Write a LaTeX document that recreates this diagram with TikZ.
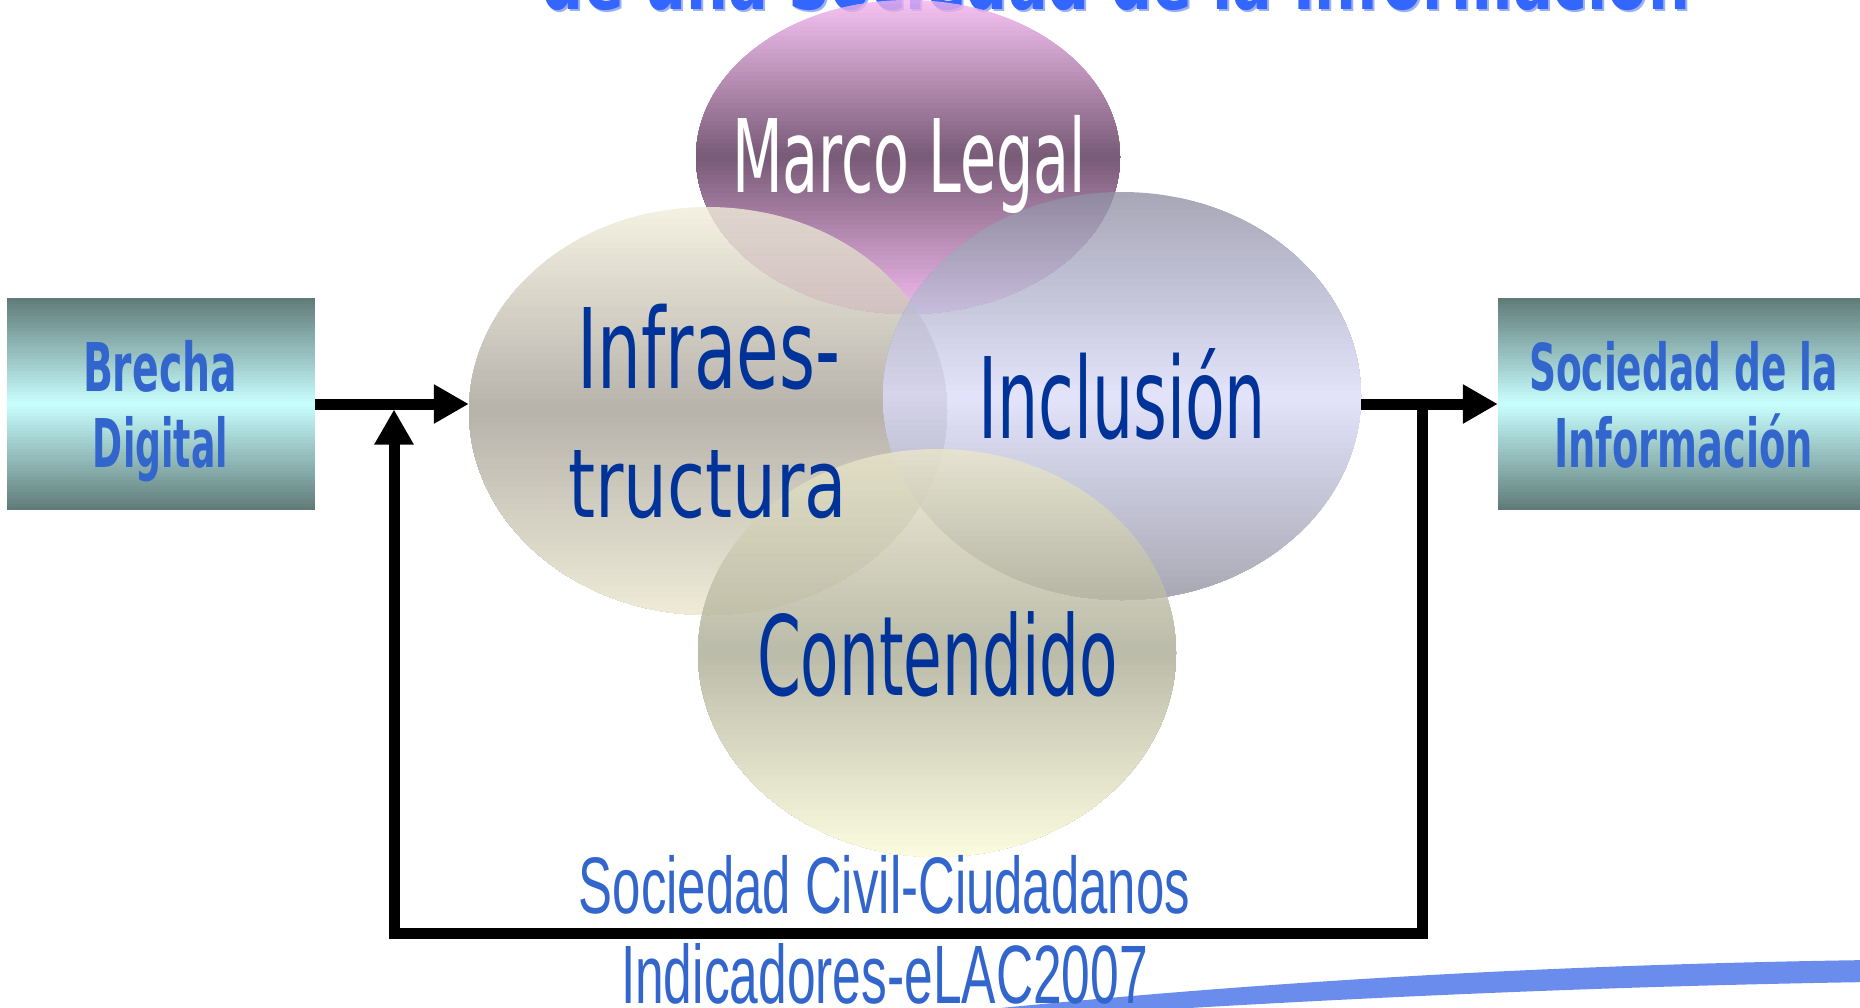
\documentclass[tikz,border=0pt]{standalone}
\usepackage{fontspec}
\usepackage{graphicx}
\usetikzlibrary{shapes.geometric,arrows.meta}
\newfontfamily\agency{DejaVu Sans}
\newfontfamily\agencythin{Liberation Sans}
\definecolor{boxdark}{HTML}{5F7A78}
\definecolor{boxlight}{HTML}{C8FFFF}
\definecolor{lblue}{HTML}{3366CC}
\definecolor{dblue}{HTML}{003399}
\definecolor{tblue}{HTML}{3366FF}
\definecolor{tshadow}{HTML}{9DB0F0}
\definecolor{swblue}{HTML}{6A8CEC}
\definecolor{mtop}{HTML}{F5B4F0}
\definecolor{mmid}{HTML}{563154}
\definecolor{mbot}{HTML}{EFA9EA}
\definecolor{itop}{HTML}{F2EDDB}
\definecolor{imid}{HTML}{A5A096}
\definecolor{ibot}{HTML}{EBE6CE}
\definecolor{ntop}{HTML}{9090A4}
\definecolor{nmid}{HTML}{DCDCFA}
\definecolor{nbot}{HTML}{9292A1}
\definecolor{ctop}{HTML}{EBE8CC}
\definecolor{cmid}{HTML}{AAAA94}
\definecolor{cbot}{HTML}{FBFBD8}
% vertical three-stop gradient drawn as strips
% #1 clip path, #2 xmin, #3 xmax, #4 ytop, #5 ybot, #6 top col, #7 mid col, #8 bottom col
\newcommand\gradfill[8]{%
  \begin{scope}
    \clip #1;
    \foreach \k in {0,...,69}{%
      \pgfmathsetmacro\gs{(\k+0.5)/70}%
      \pgfmathsetmacro\gy{#4+((#5)-(#4))/70*\k}%
      \ifdim\gs pt<0.5pt
        \pgfmathsetmacro\gp{\gs*200}\colorlet{gradcol}{#7!\gp!#6}%
      \else
        \pgfmathsetmacro\gp{(\gs-0.5)*200}\colorlet{gradcol}{#8!\gp!#7}%
      \fi
      \fill[gradcol] (#2,\gy) rectangle (#3,#5);
    }
  \end{scope}}
\begin{document}
\begin{tikzpicture}[x=1pt,y=1pt,
  lab/.style={inner sep=0pt, anchor=base},
  anchorell/.style={ellipse, inner sep=0pt},
  anchorbox/.style={rectangle, inner sep=0pt, minimum height=212pt},
  glass/.style={transparency group, opacity=0.8},
  flow/.style={line width=11pt, line join=miter, -{Triangle[length=35pt,width=37pt]}},
  boxlab/.style={lab, text=lblue, font=\agency\bfseries\fontsize{60}{72}\selectfont},
  elllab/.style={lab, text=dblue, font=\agency\fontsize{100}{120}\selectfont},
  botlab/.style={lab, text=lblue, font=\agencythin\fontsize{70}{84}\selectfont},
  titlelab/.style={lab, font=\agency\bfseries\fontsize{70}{84}\selectfont}
]
\useasboundingbox (0,0) rectangle (1860,-1007);
\clip (0,0) rectangle (1860,-1007);

% title (mostly cut off)
\node[titlelab, text=tshadow] (titleshadow) at (1118,-11.5) {\resizebox{1148pt}{60pt}{\vphantom{S}\smash{de una Sociedad de la Información}}};
\node[titlelab, text=tblue] (title) at (1116,-9.5) {\resizebox{1148pt}{60pt}{\vphantom{S}\smash{de una Sociedad de la Información}}};

% ellipses (named shapes for anchors, filled with strip gradients)
\node[anchorell, minimum width=424pt, minimum height=314pt] (marco) at (908,-157) {};
\node[anchorell, minimum width=478pt, minimum height=408pt] (infra) at (708,-411) {};
\node[anchorell, minimum width=478pt, minimum height=408pt] (incl) at (1122,-396) {};
\node[anchorell, minimum width=478pt, minimum height=408pt] (cont) at (937,-653) {};

\begin{scope}[glass]
  \gradfill{(908,-157) ellipse [x radius=212, y radius=157]}{690}{1130}{0}{-314}{mtop}{mmid}{mbot}
\end{scope}
\begin{scope}[glass]
  \gradfill{(708,-411) ellipse [x radius=239, y radius=204]}{465}{950}{-207}{-615}{itop}{imid}{ibot}
\end{scope}
\begin{scope}[glass]
  \gradfill{(1122,-396) ellipse [x radius=239, y radius=204]}{880}{1365}{-192}{-600}{ntop}{nmid}{nbot}
\end{scope}
\begin{scope}[glass]
  \gradfill{(937,-653) ellipse [x radius=239, y radius=204]}{695}{1180}{-449}{-857}{ctop}{cmid}{cbot}
\end{scope}

% side boxes
\node[anchorbox, minimum width=308pt] (brecha) at (161,-404) {};
\node[anchorbox, minimum width=370pt] (socinfo) at (1683,-404) {};
\gradfill{(7,-298) rectangle (315,-510)}{7}{315}{-298}{-510}{boxdark}{boxlight}{boxdark}
\gradfill{(1498,-298) rectangle (1868,-510)}{1498}{1868}{-298}{-510}{boxdark}{boxlight}{boxdark}

% swoosh
\fill[swblue] (960,-1012) .. controls (1150,-993) and (1450,-966) .. (1870,-960)
  -- (1870,-982) .. controls (1550,-987) and (1250,-1003) .. (1000,-1020) -- cycle;

% labels
\node[lab, text=white, font=\agency\fontsize{100}{120}\selectfont] (marcolab) at (909,-192) {\resizebox{354pt}{74pt}{\vphantom{M}\smash{Marco Legal}}};
\node[elllab] (infralabA) at (708.5,-388) {\resizebox{263pt}{81pt}{\vphantom{I}\smash{Infraes-}}};
\node[elllab] (infralabB) at (707.5,-517) {\resizebox{279pt}{67pt}{\vphantom{t}\smash{tructura}}};
\node[elllab] (incllab) at (1122,-438) {\resizebox{288pt}{82pt}{\vphantom{I}\smash{Inclusión}}};
\node[elllab] (contlab) at (937.5,-695) {\resizebox{361pt}{82pt}{\vphantom{C}\smash{Contendido}}};

\node[boxlab] (brechaA) at (160,-391) {\resizebox{154pt}{49pt}{\vphantom{B}\smash{Brecha}}};
\node[boxlab] (brechaB) at (160.5,-467) {\resizebox{135pt}{49pt}{\vphantom{D}\smash{Digital}}};
\node[boxlab] (socinfoA) at (1683.5,-390) {\resizebox{309pt}{48pt}{\vphantom{S}\smash{Sociedad de la}}};
\node[boxlab] (socinfoB) at (1683.5,-467) {\resizebox{259pt}{49pt}{\vphantom{I}\smash{Información}}};

\node[botlab] (civil) at (884.5,-913) {\resizebox{611pt}{56pt}{\vphantom{S}\smash{Sociedad Civil-Ciudadanos}}};
\node[botlab] (indic) at (884.5,-1003) {\resizebox{527pt}{57pt}{\vphantom{I}\smash{Indicadores-eLAC2007}}};

% connectors
\coordinate (jl) at (394,-404);
\coordinate (jr) at (1422,-404);
\coordinate (bl) at (394,-933);
\coordinate (br) at (1422,-933);
\draw[flow] (brecha.east) -- (brecha.east -| infra.west);
\draw[flow] (socinfo.west -| incl.east) -- (socinfo.west);
\draw[flow, shorten >=5.5pt] (jr) -- (br) -- (bl) -- (jl);
\end{tikzpicture}
\end{document}
